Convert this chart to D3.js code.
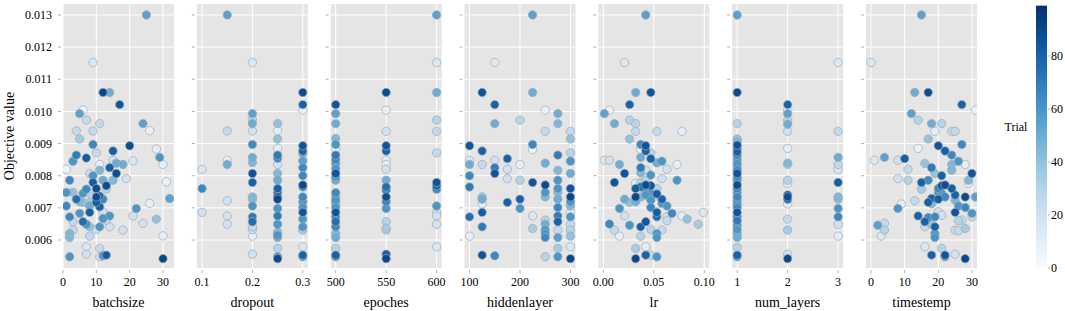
<!DOCTYPE html>
<html>
<head>
<meta charset="utf-8">
<script src="https://cdn.jsdelivr.net/npm/d3@7"></script>
<style>
  body { margin: 0; background: #fff; }
</style>
</head>
<body>
<div id="chart"></div>
<script>
// points are [param value, objective value, trial number]
const batchsizePts = [
  [25,0.01300,55],[9,0.01152,15],[12,0.01059,90],[14,0.01059,50],[17,0.01021,85],[6,0.01004,5],
  [5,0.00993,55],[7,0.00973,25],[11,0.00962,25],[24,0.00962,55],[26,0.00940,8],[4,0.00939,25],
  [9,0.00939,25],[5,0.00914,35],[9,0.00897,65],[20,0.00893,88],[28,0.00883,10],[15,0.00877,82],
  [4,0.00864,70],[7,0.00855,82],[10,0.00871,25],[29,0.00857,60],[3,0.00845,60],[15,0.00848,20],
  [16,0.00839,50],[18,0.00835,50],[21,0.00846,15],[11,0.00835,10],[30,0.00835,10],[14,0.00825,80],
  [1,0.00820,5],[11,0.00817,45],[16,0.00807,88],[8,0.00807,25],[9,0.00800,60],[12,0.00786,50],
  [15,0.00786,45],[19,0.00791,20],[2,0.00786,65],[9,0.00779,82],[31,0.00781,8],[13,0.00769,88],
  [13,0.00758,30],[10,0.00760,88],[7,0.00758,65],[1,0.00748,60],[3,0.00748,40],[6,0.00745,60],
  [8,0.00745,25],[10,0.00734,88],[11,0.00737,75],[9,0.00734,25],[4,0.00727,75],[12,0.00727,65],
  [32,0.00729,55],[5,0.00719,45],[8,0.00717,35],[10,0.00717,82],[6,0.00717,40],[1,0.00706,65],
  [11,0.00703,80],[8,0.00706,50],[26,0.00714,10],[22,0.00698,60],[12,0.00688,20],[5,0.00683,60],
  [8,0.00686,82],[14,0.00675,60],[21,0.00675,20],[2,0.00672,65],[12,0.00667,60],[28,0.00665,40],
  [6,0.00657,75],[3,0.00657,25],[7,0.00649,60],[13,0.00662,25],[24,0.00652,20],[14,0.00641,20],
  [11,0.00641,60],[8,0.00641,40],[3,0.00631,25],[2,0.00620,45],[18,0.00631,20],[10,0.00633,20],
  [8,0.00612,25],[2,0.00608,45],[30,0.00613,10],[7,0.00579,15],[11,0.00574,25],[7,0.00556,20],
  [2,0.00548,60],[11,0.00548,20],[12,0.00551,60],[13,0.00553,82],[30,0.00542,90]
];

const dropoutPts = [
  [0.15,0.01300,55],[0.2,0.01152,15],[0.3,0.01059,88],[0.3,0.01021,80],[0.3,0.01004,8],[0.2,0.00993,55],
  [0.2,0.00975,30],[0.2,0.00962,50],[0.25,0.00962,40],[0.2,0.00939,20],[0.15,0.00939,25],[0.25,0.00940,10],
  [0.25,0.00914,40],[0.2,0.00897,65],[0.3,0.00893,85],[0.25,0.00885,10],[0.3,0.00877,80],[0.3,0.00869,50],
  [0.25,0.00864,70],[0.25,0.00854,65],[0.2,0.00857,50],[0.2,0.00841,45],[0.15,0.00848,10],[0.15,0.00835,50],
  [0.3,0.00846,55],[0.25,0.00835,20],[0.1,0.00820,15],[0.3,0.00825,65],[0.2,0.00807,85],[0.25,0.00807,45],
  [0.3,0.00800,65],[0.2,0.00779,80],[0.25,0.00786,50],[0.3,0.00771,90],[0.3,0.00765,65],[0.25,0.00760,80],
  [0.1,0.00760,65],[0.25,0.00748,75],[0.25,0.00734,85],[0.25,0.00727,90],[0.2,0.00734,45],[0.2,0.00727,40],
  [0.3,0.00734,65],[0.3,0.00719,60],[0.15,0.00722,20],[0.2,0.00706,60],[0.25,0.00698,60],[0.3,0.00701,60],
  [0.3,0.00686,85],[0.1,0.00686,20],[0.25,0.00675,70],[0.2,0.00672,70],[0.15,0.00675,20],[0.3,0.00665,60],
  [0.2,0.00657,75],[0.25,0.00649,60],[0.15,0.00649,20],[0.2,0.00641,25],[0.2,0.00633,20],[0.3,0.00641,60],
  [0.3,0.00631,35],[0.25,0.00624,45],[0.25,0.00615,60],[0.25,0.00608,50],[0.2,0.00612,10],[0.3,0.00579,15],
  [0.25,0.00574,30],[0.2,0.00556,20],[0.3,0.00553,80],[0.3,0.00548,60],[0.25,0.00548,60],[0.25,0.00542,90]
];

const epochesPts = [
  [500,0.01021,85],[500,0.00993,55],[500,0.00962,50],[500,0.00916,45],[500,0.00897,60],[500,0.00885,5],
  [500,0.00864,70],[500,0.00850,65],[500,0.00838,60],[500,0.00822,60],[500,0.00807,85],[500,0.00797,60],
  [500,0.00786,50],[500,0.00747,65],[500,0.00734,50],[500,0.00724,60],[500,0.00714,50],[500,0.00701,60],
  [500,0.00686,85],[500,0.00672,65],[500,0.00657,75],[500,0.00641,65],[500,0.00620,45],[500,0.00608,50],
  [500,0.00574,30],[500,0.00553,80],[500,0.00548,60],
  [550,0.01059,88],[550,0.01004,8],[550,0.00938,20],[550,0.00893,85],[550,0.00877,80],[550,0.00848,10],
  [550,0.00835,10],[550,0.00820,20],[550,0.00786,50],[550,0.00765,75],[550,0.00755,70],[550,0.00734,88],
  [550,0.00719,65],[550,0.00698,60],[550,0.00657,30],[550,0.00636,35],[550,0.00631,25],[550,0.00556,80],
  [550,0.00542,90],
  [600,0.01300,55],[600,0.01152,15],[600,0.01059,50],[600,0.00973,30],[600,0.00938,25],[600,0.00871,25],
  [600,0.00779,85],[600,0.00769,80],[600,0.00758,65],[600,0.00706,60],[600,0.00686,20],[600,0.00675,20],
  [600,0.00649,20],[600,0.00579,15]
];

const hiddenlayerPts = [
  [225,0.01300,55],[150,0.01152,15],[125,0.01059,85],[225,0.01059,50],[150,0.01021,80],[250,0.01004,8],
  [275,0.00993,50],[150,0.00962,50],[200,0.00973,30],[275,0.00962,45],[250,0.00938,25],[300,0.00938,25],
  [300,0.00914,40],[100,0.00893,85],[225,0.00897,65],[225,0.00882,5],[125,0.00877,80],[300,0.00871,30],
  [275,0.00864,70],[175,0.00853,80],[100,0.00848,15],[150,0.00848,20],[300,0.00845,60],[100,0.00835,50],
  [125,0.00835,25],[200,0.00835,10],[250,0.00839,50],[150,0.00825,70],[175,0.00820,20],[150,0.00807,85],
  [275,0.00817,45],[300,0.00807,50],[100,0.00800,65],[175,0.00791,20],[200,0.00786,30],[275,0.00786,60],
  [225,0.00779,85],[250,0.00771,88],[100,0.00765,70],[300,0.00760,85],[275,0.00760,60],[250,0.00748,60],
  [275,0.00748,45],[300,0.00734,90],[250,0.00734,45],[125,0.00734,40],[125,0.00727,50],[200,0.00727,80],
  [275,0.00727,50],[300,0.00719,60],[125,0.00712,10],[300,0.00706,45],[175,0.00717,80],[200,0.00698,60],
  [275,0.00701,65],[125,0.00686,82],[300,0.00686,10],[275,0.00675,70],[100,0.00672,75],[225,0.00675,15],
  [300,0.00672,60],[275,0.00657,80],[250,0.00662,30],[250,0.00649,50],[300,0.00649,25],[125,0.00641,70],
  [225,0.00636,35],[275,0.00631,25],[300,0.00631,30],[250,0.00631,60],[250,0.00620,60],[250,0.00608,65],
  [300,0.00612,40],[100,0.00612,10],[275,0.00608,55],[300,0.00579,15],[275,0.00574,35],[125,0.00553,85],
  [150,0.00551,65],[250,0.00548,30],[275,0.00548,60],[300,0.00542,90]
];

const lrPts = [
  [0.042,0.01300,55],[0.021,0.01152,15],[0.032,0.01059,50],[0.047,0.01059,85],[0.026,0.01021,80],
  [0.006,0.01004,8],[0.001,0.00993,55],[0.011,0.00962,50],[0.026,0.00973,30],[0.032,0.00962,30],
  [0.032,0.00938,25],[0.053,0.00938,25],[0.078,0.00938,10],[0.026,0.00914,40],[0.037,0.00897,65],
  [0.042,0.00893,85],[0.037,0.00882,5],[0.042,0.00877,80],[0.047,0.00871,30],[0.037,0.00857,50],
  [0.047,0.00853,80],[0.001,0.00848,15],[0.006,0.00848,20],[0.016,0.00835,50],[0.037,0.00825,70],
  [0.053,0.00840,50],[0.058,0.00845,60],[0.073,0.00835,10],[0.063,0.00820,20],[0.037,0.00809,45],
  [0.021,0.00807,85],[0.042,0.00817,20],[0.047,0.00802,60],[0.058,0.00791,20],[0.073,0.00786,60],
  [0.011,0.00779,85],[0.032,0.00776,10],[0.037,0.00778,30],[0.042,0.00786,30],[0.042,0.00771,88],
  [0.047,0.00769,85],[0.032,0.00760,82],[0.037,0.00765,75],[0.042,0.00755,60],[0.053,0.00760,30],
  [0.047,0.00745,60],[0.032,0.00734,90],[0.037,0.00734,45],[0.042,0.00740,60],[0.053,0.00743,82],
  [0.021,0.00727,50],[0.026,0.00717,40],[0.032,0.00719,50],[0.058,0.00727,80],[0.047,0.00724,60],
  [0.053,0.00712,10],[0.058,0.00714,60],[0.063,0.00706,60],[0.016,0.00698,60],[0.047,0.00701,65],
  [0.053,0.00686,82],[0.068,0.00683,65],[0.021,0.00675,20],[0.078,0.00675,10],[0.099,0.00686,15],
  [0.006,0.00650,65],[0.053,0.00672,75],[0.063,0.00672,20],[0.083,0.00665,40],[0.063,0.00660,25],
  [0.042,0.00657,85],[0.026,0.00646,60],[0.094,0.00649,35],[0.037,0.00641,80],[0.047,0.00633,30],
  [0.058,0.00631,25],[0.011,0.00631,25],[0.053,0.00620,60],[0.053,0.00608,60],[0.016,0.00612,10],
  [0.037,0.00612,30],[0.032,0.00574,35],[0.042,0.00579,10],[0.042,0.00553,80],[0.047,0.00553,25],
  [0.053,0.00548,60],[0.032,0.00542,90]
];

const numLayersPts = [
  [1,0.01300,55],[1,0.01059,88],[1,0.00962,30],[1,0.00914,40],[1,0.00905,45],[1,0.00895,85],
  [1,0.00885,65],[1,0.00874,80],[1,0.00864,65],[1,0.00850,60],[1,0.00838,60],[1,0.00828,50],
  [1,0.00817,65],[1,0.00807,85],[1,0.00797,65],[1,0.00786,60],[1,0.00771,88],[1,0.00760,65],
  [1,0.00747,60],[1,0.00734,65],[1,0.00724,60],[1,0.00712,60],[1,0.00701,65],[1,0.00686,85],
  [1,0.00672,65],[1,0.00660,70],[1,0.00646,60],[1,0.00633,60],[1,0.00620,50],[1,0.00608,50],
  [1,0.00577,30],[1,0.00553,80],[1,0.00548,60],
  [2,0.01021,80],[2,0.01004,8],[2,0.00993,55],[2,0.00973,30],[2,0.00960,50],[2,0.00938,20],
  [2,0.00885,10],[2,0.00839,45],[2,0.00835,25],[2,0.00786,30],[2,0.00776,10],[2,0.00740,85],
  [2,0.00734,88],[2,0.00727,80],[2,0.00712,10],[2,0.00665,25],[2,0.00631,35],[2,0.00556,20],
  [2,0.00542,90],
  [3,0.01152,15],[3,0.00938,25],[3,0.00857,50],[3,0.00835,25],[3,0.00820,15],[3,0.00779,82],
  [3,0.00734,45],[3,0.00727,40],[3,0.00698,60],[3,0.00672,65],[3,0.00649,20],[3,0.00612,10]
];

const timestempPts = [
  [15,0.01300,55],[0,0.01152,15],[13,0.01059,50],[17,0.01059,88],[27,0.01021,80],[31,0.01004,8],
  [12,0.00993,55],[14,0.00973,30],[18,0.00962,50],[21,0.00962,30],[19,0.00938,10],[24,0.00938,25],
  [25,0.00938,25],[17,0.00914,40],[14,0.00885,8],[20,0.00893,85],[27,0.00897,65],[22,0.00877,80],
  [24,0.00864,65],[10,0.00853,82],[4,0.00857,55],[1,0.00848,15],[8,0.00848,20],[26,0.00845,60],
  [16,0.00838,40],[11,0.00820,25],[18,0.00825,70],[24,0.00835,45],[28,0.00835,10],[24,0.00817,45],
  [19,0.00807,40],[21,0.00800,80],[30,0.00807,85],[8,0.00791,20],[11,0.00786,30],[15,0.00779,80],
  [17,0.00786,65],[29,0.00786,45],[29,0.00776,10],[15,0.00758,35],[21,0.00769,85],[22,0.00771,88],
  [20,0.00760,65],[24,0.00760,82],[20,0.00748,60],[21,0.00745,60],[25,0.00740,80],[28,0.00734,90],
  [31,0.00734,55],[18,0.00729,80],[20,0.00727,82],[22,0.00734,65],[17,0.00717,80],[25,0.00724,45],
  [13,0.00722,25],[9,0.00712,10],[18,0.00713,45],[26,0.00706,60],[8,0.00698,60],[28,0.00701,65],
  [20,0.00688,20],[21,0.00677,20],[25,0.00686,85],[30,0.00683,60],[14,0.00675,80],[16,0.00657,80],
  [17,0.00670,65],[19,0.00672,65],[18,0.00649,40],[16,0.00641,25],[19,0.00641,80],[2,0.00646,55],
  [4,0.00652,25],[4,0.00631,30],[3,0.00612,15],[27,0.00662,25],[26,0.00660,30],[25,0.00631,25],
  [26,0.00629,25],[28,0.00636,35],[30,0.00672,25],[19,0.00620,60],[19,0.00608,60],[16,0.00579,15],
  [21,0.00574,30],[18,0.00553,80],[22,0.00553,85],[25,0.00556,20],[22,0.00548,60],[28,0.00542,90]
];

const paramNames = ["batchsize", "dropout", "epoches", "hiddenlayer", "lr", "num_layers", "timestemp"];
const paramPoints = [batchsizePts, dropoutPts, epochesPts, hiddenlayerPts, lrPts, numLayersPts, timestempPts];
const xDomains = [[0, 33.3], [0.0896, 0.31], [495, 605], [90, 310], [-0.005, 0.105], [0.9, 3.1], [-1.5, 31.5]];
const xTicks = [[0, 10, 20, 30], [0.1, 0.2, 0.3], [500, 550, 600], [100, 200, 300], [0, 0.05, 0.1], [1, 2, 3], [0, 10, 20, 30]];
const xFormats = ["d", ".1f", "d", "d", ".2f", "d", "d"];
const yTicks = [0.006, 0.007, 0.008, 0.009, 0.010, 0.011, 0.012, 0.013];
const trialTicks = [0, 20, 40, 60, 80];

const W = 1065, H = 311;
const panelLeft = 63, panelW = 111, panelStep = 133.83;
const plotTop = 4, plotBottom = 268;
const FONT = "Liberation Serif";

const svg = d3.select("#chart").append("svg")
  .attr("width", W)
  .attr("height", H);

// every label goes through here so the serif face is set on the element itself
function label(sel, size) {
  return sel.append("text")
    .attr("font-family", FONT)
    .attr("font-size", size)
    .attr("fill", "#000");
}

const y = d3.scaleLinear().domain([0.00513, 0.01334]).range([plotBottom, plotTop]);
const color = d3.scaleSequential(d3.interpolateBlues).domain([0, 99]);

paramNames.forEach((name, i) => {
  const x0 = panelLeft + i * panelStep;
  const x = d3.scaleLinear().domain(xDomains[i]).range([x0, x0 + panelW]);
  const g = svg.append("g");

  g.append("rect")
    .attr("x", x0).attr("y", plotTop)
    .attr("width", panelW).attr("height", plotBottom - plotTop)
    .attr("fill", "#e5e5e5");

  // grid
  g.selectAll(".hg").data(yTicks).enter().append("line")
    .attr("x1", x0).attr("x2", x0 + panelW)
    .attr("y1", d => y(d)).attr("y2", d => y(d))
    .attr("stroke", "#fff").attr("stroke-width", 1);
  g.selectAll(".vg").data(xTicks[i]).enter().append("line")
    .attr("x1", d => x(d)).attr("x2", d => x(d))
    .attr("y1", plotTop).attr("y2", plotBottom)
    .attr("stroke", "#fff").attr("stroke-width", 1);

  // y ticks
  g.selectAll(".yt").data(yTicks).enter().append("line")
    .attr("x1", x0 - 5).attr("x2", x0 - 2)
    .attr("y1", d => y(d)).attr("y2", d => y(d))
    .attr("stroke", "#999").attr("stroke-width", 0.8);
  if (i === 0) {
    yTicks.forEach(v => {
      label(g, 12)
        .attr("x", x0 - 11).attr("y", y(v))
        .attr("dy", "0.35em").attr("text-anchor", "end")
        .text(d3.format(".3f")(v));
    });
  }

  // x ticks
  g.selectAll(".xt").data(xTicks[i]).enter().append("line")
    .attr("x1", d => x(d)).attr("x2", d => x(d))
    .attr("y1", plotBottom + 2).attr("y2", plotBottom + 5)
    .attr("stroke", "#999").attr("stroke-width", 0.8);
  xTicks[i].forEach(v => {
    label(g, 12)
      .attr("x", x(v)).attr("y", 282)
      .attr("dy", "0.35em").attr("text-anchor", "middle")
      .text(d3.format(xFormats[i])(v));
  });

  label(g, 14)
    .attr("x", x0 + panelW / 2).attr("y", 302)
    .attr("dy", "0.35em").attr("text-anchor", "middle")
    .text(name);

  // points, later trials on top
  const clipId = "clip" + i;
  svg.append("clipPath").attr("id", clipId).append("rect")
    .attr("x", x0).attr("y", plotTop).attr("width", panelW).attr("height", plotBottom - plotTop);

  const pts = paramPoints[i].slice().sort((a, b) => a[2] - b[2]);
  g.append("g").attr("clip-path", `url(#${clipId})`)
    .selectAll("circle").data(pts).enter().append("circle")
    .attr("cx", d => x(d[0]))
    .attr("cy", d => y(d[1]))
    .attr("r", 4.2)
    .attr("fill", d => color(d[2]))
    .attr("stroke", "#a8a8a8")
    .attr("stroke-width", 0.7);
});

// y axis title
label(svg, 14)
  .attr("transform", `translate(9,${(plotTop + plotBottom) / 2}) rotate(-90)`)
  .attr("text-anchor", "middle")
  .attr("dy", "0.35em")
  .text("Objective value");

// colorbar
const cbX = 1036, cbW = 11;
const cbY = d3.scaleLinear().domain([0, 100]).range([268, 3]);
const defs = svg.append("defs");
const grad = defs.append("linearGradient").attr("id", "cbgrad")
  .attr("x1", 0).attr("y1", 1).attr("x2", 0).attr("y2", 0);
d3.range(0, 1.001, 0.1).forEach(t => {
  grad.append("stop").attr("offset", t).attr("stop-color", d3.interpolateBlues(t));
});
svg.append("rect")
  .attr("x", cbX).attr("y", cbY(99))
  .attr("width", cbW).attr("height", cbY(0) - cbY(99))
  .attr("fill", "url(#cbgrad)");

svg.selectAll(".ct").data(trialTicks).enter().append("line")
  .attr("x1", cbX + cbW + 1).attr("x2", cbX + cbW + 3)
  .attr("y1", d => cbY(d)).attr("y2", d => cbY(d))
  .attr("stroke", "#999").attr("stroke-width", 0.8);
trialTicks.forEach(v => {
  label(svg, 12)
    .attr("x", cbX + cbW + 4).attr("y", cbY(v))
    .attr("dy", "0.35em")
    .text(v);
});

label(svg, 12)
  .attr("x", 1016).attr("y", 127)
  .attr("dy", "0.35em").attr("text-anchor", "middle")
  .text("Trial");
</script>
</body>
</html>
